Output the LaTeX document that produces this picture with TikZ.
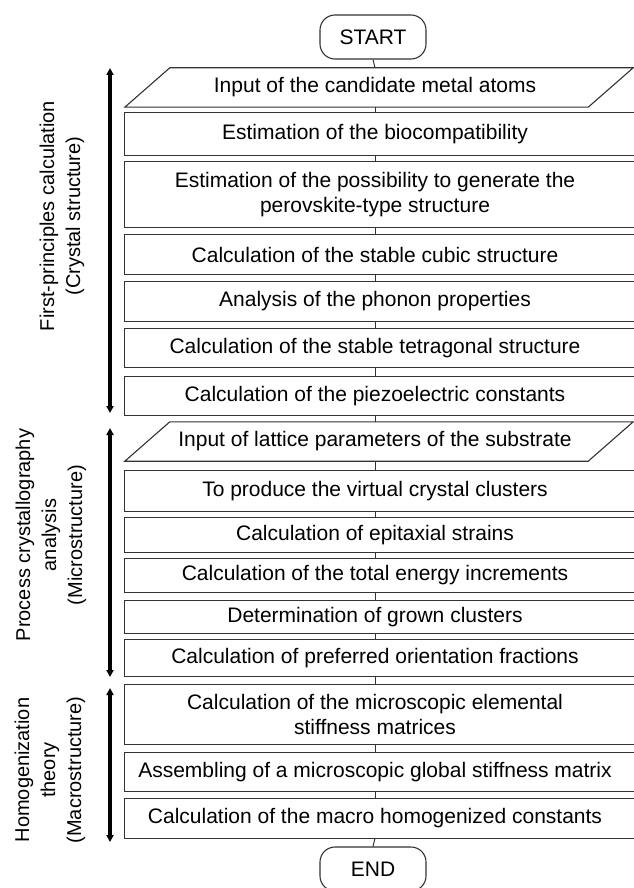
\documentclass[tikz,border=0pt]{standalone}
\usepackage{fontspec}
\setmainfont{Liberation Sans}
\usetikzlibrary{arrows.meta}
\begin{document}
\begin{tikzpicture}[x=1pt,y=-1pt,
  txt/.style={font=\fontsize{21}{25}\selectfont, align=center, inner sep=0pt, minimum width=500pt},
  frame/.style={draw=black!80, line width=1.1pt},
  term/.style={draw=black!80, line width=1.1pt, rounded corners=15pt, minimum width=106pt, minimum height=44pt, inner sep=0pt, font=\fontsize{21}{25}\selectfont},
  link/.style={draw=black!80, line width=1pt},
  bracket/.style={line width=3.2pt, {Triangle[length=7pt,width=7pt]}-{Triangle[length=7pt,width=7pt]}},
  side/.style={rotate=90, align=center, inner sep=0pt, font=\fontsize{20}{26}\selectfont}
]
\useasboundingbox (0,0) rectangle (633,888);
\fill[white] (0,0) rectangle (633,888);

% terminals
\node[term] (start) at (373,37) {START};
\node[term] (end) at (373,869) {END};

% steps
\node[txt, minimum height=39pt] (p1) at (375,87.5) {Input of the candidate metal atoms};
\node[txt, minimum height=42pt] (b2) at (375,134) {Estimation of the biocompatibility};
\node[txt, minimum height=65pt] (b3) at (375,194.5) {Estimation of the possibility to generate the\\perovskite-type structure};
\node[txt, minimum height=39pt] (b4) at (375,254.5) {Calculation of the stable cubic structure};
\node[txt, minimum height=39pt] (b5) at (375,301.5) {Analysis of the phonon properties};
\node[txt, minimum height=38pt] (b6) at (375,348) {Calculation of the stable tetragonal structure};
\node[txt, minimum height=38pt] (b7) at (375,396) {Calculation of the piezoelectric constants};
\node[txt, minimum height=39pt] (p2) at (375,441.5) {Input of lattice parameters of the substrate};
\node[txt, minimum height=40pt] (b9) at (375,491) {To produce the virtual crystal clusters};
\node[txt, minimum height=34pt] (b10) at (375,535) {Calculation of epitaxial strains};
\node[txt, minimum height=33pt] (b11) at (375,575.5) {Calculation of the total energy increments};
\node[txt, minimum height=32pt] (b12) at (375,617) {Determination of grown clusters};
\node[txt, minimum height=36pt] (b13) at (375,658) {Calculation of preferred orientation fractions};
\node[txt, minimum height=59pt] (b14) at (375,714.5) {Calculation of the microscopic elemental\\stiffness matrices};
\node[txt, minimum height=38pt] (b15) at (375,772) {Assembling of a microscopic global stiffness matrix};
\node[txt, minimum height=39pt] (b16) at (375,818.5) {Calculation of the macro homogenized constants};

% frames of the process boxes (they run past the right edge)
\foreach \n in {b2,b3,b4,b5,b6,b7,b9,b10,b11,b12,b13,b14,b15,b16}
  \draw[frame] (\n.north west) rectangle ([xshift=30pt]\n.south east);
% input parallelograms
\foreach \n in {p1,p2}
  \draw[frame] (\n.south west) -- ([xshift=45pt]\n.north west) -- ([xshift=8pt]\n.north east) -- ([xshift=-37pt]\n.south east) -- cycle;

% connectors
\foreach \a/\b in {start/p1,p1/b2,b2/b3,b3/b4,b4/b5,b5/b6,b6/b7,b7/p2,p2/b9,b9/b10,b10/b11,b11/b12,b12/b13,b13/b14,b14/b15,b15/b16,b16/end}
  \draw[link] (\a.south) -- (\b.north);

% stage brackets
\coordinate (a1t) at (110,68);  \coordinate (a1b) at (110,413);
\coordinate (a2t) at (110,428); \coordinate (a2b) at (110,677);
\coordinate (a3t) at (110,688); \coordinate (a3b) at (110,842);
\draw[bracket] (a1t) -- (a1b);
\draw[bracket] (a2t) -- (a2b);
\draw[bracket] (a3t) -- (a3b);

% stage labels
\node[side] (l1) at (62,216) {First-principles calculation\\(Crystal structure)};
\node[side] (l2) at (51,535) {Process crystallography\\analysis\\(Microstructure)};
\node[side] (l3) at (50,770) {Homogenization\\theory\\(Macrostructure)};
\end{tikzpicture}
\end{document}
